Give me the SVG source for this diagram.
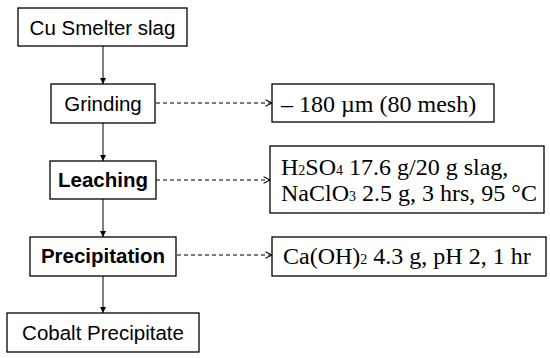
<svg xmlns="http://www.w3.org/2000/svg" width="550" height="358" viewBox="0 0 550 358">
<style>
.box{fill:#fff;stroke:#000;stroke-width:1.3}
.sans{font-family:"Liberation Sans",Arial,sans-serif;font-size:20.5px;fill:#000;text-anchor:middle}
.bold{font-weight:bold}
.serif{font-family:"Liberation Serif","Times New Roman",serif;font-size:24px;fill:#000}
.sub{font-size:14px}
.solid{stroke:#000;stroke-width:1;fill:none}
.dash{stroke:#000;stroke-width:1.2;fill:none;stroke-dasharray:4 3}
</style>
<defs>
<marker id="tri" viewBox="0 0 10 10" refX="10" refY="5" markerWidth="6" markerHeight="6" markerUnits="userSpaceOnUse" orient="auto">
<path d="M0,0 L10,5 L0,10 Z" fill="#000"/>
</marker>
<marker id="chev" viewBox="0 0 10 10" refX="9" refY="5" markerWidth="8" markerHeight="8" markerUnits="userSpaceOnUse" orient="auto">
<path d="M1,1 L9,5 L1,9" fill="none" stroke="#000" stroke-width="1.3"/>
</marker>
</defs>
<rect width="550" height="358" fill="#fff"/>
<g id="connectors">
<line class="solid" x1="103" y1="46" x2="103" y2="84" marker-end="url(#tri)"/>
<line class="solid" x1="103" y1="123" x2="103" y2="161" marker-end="url(#tri)"/>
<line class="solid" x1="103" y1="199" x2="103" y2="237" marker-end="url(#tri)"/>
<line class="solid" x1="103" y1="276" x2="103" y2="313" marker-end="url(#tri)"/>
<line class="dash" x1="156" y1="103" x2="272" y2="103" marker-end="url(#chev)"/>
<line class="dash" x1="156" y1="180" x2="270" y2="180" marker-end="url(#chev)"/>
<line class="dash" x1="177" y1="255" x2="272" y2="255" marker-end="url(#chev)"/>
</g>
<g id="slag">
<rect class="box" x="18" y="8" width="169" height="38"/>
<text class="sans" x="102.5" y="35">Cu Smelter slag</text>
</g>
<g id="grinding">
<rect class="box" x="51" y="84" width="104" height="39"/>
<text class="sans" x="103" y="111">Grinding</text>
</g>
<g id="leaching">
<rect class="box" x="50" y="161" width="106" height="38"/>
<text class="sans bold" x="103" y="187">Leaching</text>
</g>
<g id="precipitation">
<rect class="box" x="30" y="237" width="146" height="39"/>
<text class="sans bold" x="103" y="263">Precipitation</text>
</g>
<g id="cobalt">
<rect class="box" x="7" y="313" width="192" height="39"/>
<text class="sans" x="103" y="340">Cobalt Precipitate</text>
</g>
<g id="grinding-cond">
<rect class="box" x="272" y="84" width="222" height="38"/>
<text class="serif" x="281" y="112">– 180 µm (80 mesh)</text>
</g>
<g id="leaching-cond">
<rect class="box" x="270" y="146" width="274" height="67"/>
<text class="serif" x="281" y="175">H<tspan class="sub">2</tspan>SO<tspan class="sub">4</tspan> 17.6 g/20 g slag,</text>
<text class="serif" x="281" y="201">NaClO<tspan class="sub">3</tspan> 2.5 g, 3 hrs, 95 °C</text>
</g>
<g id="precip-cond">
<rect class="box" x="272" y="237" width="274" height="39"/>
<text class="serif" x="283" y="264">Ca(OH)<tspan class="sub">2</tspan> 4.3 g, pH 2, 1 hr</text>
</g>
</svg>
